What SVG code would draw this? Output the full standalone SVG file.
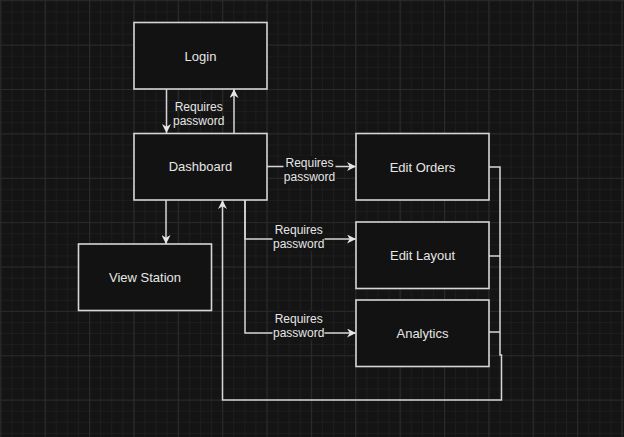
<svg xmlns="http://www.w3.org/2000/svg" width="624" height="437" viewBox="0 0 624 437">
<style>
.node rect{fill:#121212;stroke:#d6d6d6;stroke-width:1.6}
.node text{font-family:"Liberation Sans",Arial,sans-serif;font-size:13px;fill:#e6e6e6;text-anchor:middle}
.edge{fill:none;stroke:#d6d6d6;stroke-width:1.5}
.lbl text{font-family:"Liberation Sans",Arial,sans-serif;font-size:12px;fill:#e6e6e6;text-anchor:middle}
.lbl rect{fill:#141414}
</style>
<defs>
<pattern id="minor" patternUnits="userSpaceOnUse" x="0.25" y="0.25" width="11.094" height="11.094">
<path d="M0,0.5 H11.094 M0.5,0 V11.094" stroke="#1d1d1d" stroke-width="1" fill="none"/>
</pattern>
<pattern id="major" patternUnits="userSpaceOnUse" x="0.25" y="0.25" width="44.375" height="44.375">
<path d="M0,0.5 H44.375 M0.5,0 V44.375" stroke="#2a2a2a" stroke-width="1.2" fill="none"/>
</pattern>
<marker id="arr" viewBox="0 0 10 10" refX="10" refY="5" markerWidth="9" markerHeight="9" markerUnits="userSpaceOnUse" orient="auto">
<path d="M0,0 L10,5 L0,10 L3,5 z" fill="#e6e6e6"/>
</marker>
</defs>
<rect width="624" height="437" fill="#141414"/>
<rect width="624" height="437" fill="url(#minor)"/>
<rect width="624" height="437" fill="url(#major)"/>

<g id="connectors">
<path class="edge" d="M166.5,89 V133" marker-end="url(#arr)"/>
<path class="edge" d="M234,133 V89" marker-end="url(#arr)"/>
<path class="edge" d="M267,166.5 H356" marker-end="url(#arr)"/>
<path class="edge" d="M245,200 V239 H356" marker-end="url(#arr)"/>
<path class="edge" d="M245,200 V333 H356" marker-end="url(#arr)"/>
<path class="edge" d="M166,200 V244" marker-end="url(#arr)"/>
<path class="edge" d="M489,167 H500 V355 H501.5 V400 H222.5 V200" marker-end="url(#arr)"/>
<path class="edge" d="M489,256 H500"/>
<path class="edge" d="M489,332 H500"/>
<g class="lbl">
<text x="198.7" y="111">Requires</text>
<text x="198.7" y="125">password</text>
</g>
<g class="lbl">
<rect x="283.5" y="156" width="52" height="28"/>
<text x="309.5" y="167">Requires</text>
<text x="309.5" y="181">password</text>
</g>
<g class="lbl">
<rect x="272.5" y="223" width="52" height="28"/>
<text x="298.7" y="234">Requires</text>
<text x="298.7" y="248">password</text>
</g>
<g class="lbl">
<rect x="272.5" y="311.5" width="52" height="28"/>
<text x="298.7" y="322.7">Requires</text>
<text x="298.7" y="337">password</text>
</g>
</g>

<g id="login" class="node"><rect x="134" y="22.5" width="133" height="66.5"/><text x="200.5" y="60.5">Login</text></g>
<g id="dashboard" class="node"><rect x="134" y="133.5" width="133" height="66.5"/><text x="200.5" y="171">Dashboard</text></g>
<g id="edit-orders" class="node"><rect x="356" y="133.5" width="133" height="66.5"/><text x="422.5" y="171.5">Edit Orders</text></g>
<g id="edit-layout" class="node"><rect x="356" y="222" width="133" height="66.5"/><text x="422.5" y="260">Edit Layout</text></g>
<g id="analytics" class="node"><rect x="356" y="300" width="133" height="66.5"/><text x="422.5" y="337.5">Analytics</text></g>
<g id="view-station" class="node"><rect x="78.5" y="244" width="133" height="66.5"/><text x="145" y="282">View Station</text></g>
</svg>
